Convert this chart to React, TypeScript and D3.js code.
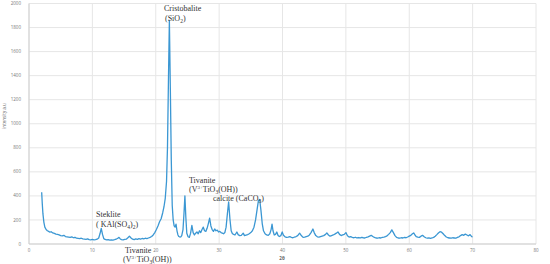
import React from "react";
import * as d3 from "d3";

const twoTheta: number[] = [
  2.0, 2.1, 2.2, 2.35, 2.5, 2.7, 2.9, 3.1, 3.3, 3.5, 3.75, 4.0, 4.25, 4.5, 4.75, 5.0, 5.25, 5.5, 5.75, 6.0,
  6.25, 6.5, 6.75, 7.0, 7.25, 7.5, 7.75, 8.0, 8.25, 8.5, 8.75, 9.0, 9.25, 9.5, 9.75, 10.0, 10.25, 10.5, 10.75, 11.0,
  11.2, 11.4, 11.6, 11.8, 12.0, 12.25, 12.5, 12.75, 13.0, 13.25, 13.5, 13.75, 14.0, 14.2, 14.4, 14.6, 14.85, 15.1, 15.35, 15.6,
  15.85, 16.1, 16.35, 16.6, 16.85, 17.1, 17.35, 17.6, 17.85, 18.1, 18.35, 18.6, 18.85, 19.1, 19.35, 19.6, 19.85, 20.1, 20.35, 20.6,
  20.85, 21.1, 21.3, 21.5, 21.7, 21.85, 22.0, 22.15, 22.3, 22.45, 22.6, 22.75, 22.9, 23.05, 23.2, 23.35, 23.5, 23.65, 23.8, 23.95,
  24.1, 24.3, 24.45, 24.6, 24.75, 24.9, 25.1, 25.3, 25.5, 25.7, 25.9, 26.1, 26.3, 26.5, 26.7, 26.9, 27.1, 27.3, 27.5, 27.7,
  27.9, 28.1, 28.3, 28.5, 28.7, 28.9, 29.1, 29.3, 29.5, 29.7, 29.9, 30.1, 30.3, 30.5, 30.7, 30.9, 31.1, 31.3, 31.5, 31.7,
  31.9, 32.1, 32.3, 32.5, 32.8, 33.0, 33.25, 33.5, 33.8, 34.0, 34.25, 34.5, 34.75, 35.0, 35.25, 35.5, 35.75, 36.0, 36.2, 36.4,
  36.6, 36.8, 37.0, 37.25, 37.5, 37.75, 38.0, 38.2, 38.35, 38.5, 38.7, 38.9, 39.1, 39.3, 39.5, 39.75, 39.95, 40.15, 40.4, 40.65,
  40.9, 41.15, 41.4, 41.65, 41.9, 42.15, 42.4, 42.7, 43.0, 43.25, 43.5, 43.75, 44.0, 44.25, 44.5, 44.8, 45.0, 45.25, 45.5, 45.75,
  46.0, 46.25, 46.5, 46.75, 47.0, 47.25, 47.5, 47.75, 48.0, 48.25, 48.5, 48.75, 49.0, 49.25, 49.5, 49.75, 50.0, 50.25, 50.5, 50.75,
  51.0, 51.25, 51.5, 51.75, 52.0, 52.25, 52.5, 52.75, 53.0, 53.25, 53.5, 53.75, 54.0, 54.25, 54.5, 54.75, 55.0, 55.25, 55.5, 55.75,
  56.0, 56.25, 56.5, 56.75, 57.0, 57.25, 57.5, 57.75, 58.0, 58.25, 58.5, 58.75, 59.0, 59.25, 59.5, 59.75, 60.0, 60.25, 60.5, 60.7,
  60.9, 61.1, 61.35, 61.6, 61.85, 62.1, 62.35, 62.6, 62.85, 63.1, 63.35, 63.6, 63.85, 64.1, 64.35, 64.6, 64.85, 65.1, 65.35, 65.6,
  65.85, 66.1, 66.35, 66.6, 66.85, 67.1, 67.35, 67.6, 67.85, 68.1, 68.35, 68.6, 68.85, 69.1, 69.35, 69.6, 69.85, 70.0,
];

const intensity: number[] = [
  430, 330, 250, 180, 140, 120, 110, 105, 98, 102, 92, 88, 82, 80, 76, 70, 68, 72, 62, 60,
  58, 55, 60, 52, 56, 48, 46, 44, 48, 42, 40, 38, 42, 36, 35, 38, 34, 36, 40, 50,
  85, 130, 80, 45, 38, 34, 36, 32, 35, 33, 36, 40, 48, 55, 42, 36, 34, 38, 40, 52,
  65, 50, 40, 36, 42, 38, 44, 40, 46, 42, 48, 45, 50, 55, 62, 75, 95, 120, 150, 185,
  210, 260, 310, 380, 520, 800, 1350, 1860, 1300, 700, 320, 200, 150, 140, 165, 110, 75, 62, 58, 60,
  70, 120, 250, 400, 220, 90, 60, 55, 90, 155, 95, 75, 90, 100, 85, 110, 95, 120, 140, 110,
  105, 130, 170, 215, 150, 120, 105, 125, 110, 115, 100, 105, 95, 90, 85, 95, 140, 250, 350, 210,
  110, 85, 80, 75, 100, 78, 70, 72, 90, 70, 74, 78, 85, 95, 110, 140, 200, 290, 360, 370,
  280, 170, 110, 85, 75, 72, 85, 120, 165, 110, 75, 80, 100, 70, 62, 70, 100, 72, 60, 55,
  58, 62, 55, 52, 58, 62, 70, 90, 68, 55, 58, 62, 65, 75, 95, 125, 95, 70, 60, 58,
  62, 66, 70, 78, 92, 75, 65, 70, 75, 82, 90, 100, 80, 70, 75, 80, 95, 68, 58, 62,
  55, 52, 56, 50, 54, 50, 55, 52, 50, 56, 60, 66, 72, 62, 55, 50, 48, 52, 50, 55,
  58, 62, 68, 80, 95, 118, 95, 70, 55, 50, 48, 52, 50, 55, 52, 58, 65, 72, 85, 92,
  75, 62, 58, 55, 65, 72, 60, 52, 48, 50, 46, 50, 55, 65, 78, 92, 102, 98, 85, 70,
  58, 52, 50, 48, 52, 50, 48, 55, 60, 70, 78, 72, 82, 75, 68, 78, 62, 60,
];

const xTicks: number[] = [0, 10, 20, 30, 40, 50, 60, 70, 80];
const yTicks: number[] = [0, 200, 400, 600, 800, 1000, 1200, 1400, 1600, 1800, 2000];

const W = 550;
const H = 264;

export default function App() {
  const x = d3.scaleLinear().domain([0, 80]).range([29, 536]);
  const y = d3.scaleLinear().domain([0, 2000]).range([244, 3.5]);
  const pts: [number, number][] = twoTheta.map((t, i) => [t, intensity[i]]);
  const line = d3
    .line<[number, number]>()
    .x((d) => x(d[0]))
    .y((d) => y(d[1]));

  const serif = "'Liberation Serif', 'DejaVu Serif', serif";
  const sans = "'Open Sans', 'Liberation Sans', sans-serif";
  const tc = "#333";
  const fs = 8;

  return (
    <svg
      width={W}
      height={H}
      style={{ position: "absolute", left: 0, top: 0, background: "#fff" }}
    >
      {/* grid */}
      {yTicks.map((v) => (
        <line key={"gy" + v} x1={x(0)} x2={x(80)} y1={y(v)} y2={y(v)} stroke="#e6e6e6" strokeWidth={1} />
      ))}
      {xTicks.map((v) => (
        <line key={"gx" + v} x1={x(v)} x2={x(v)} y1={y(0)} y2={y(2000)} stroke="#e6e6e6" strokeWidth={1} />
      ))}
      {/* axes */}
      <line x1={x(0)} x2={x(0)} y1={y(0)} y2={y(2000)} stroke="#cfcfcf" strokeWidth={1} />
      <line x1={x(0)} x2={x(80)} y1={y(0)} y2={y(0)} stroke="#cfcfcf" strokeWidth={1} />
      {/* tick labels */}
      {yTicks.map((v) => (
        <text key={"ty" + v} x={21} y={y(v)} dy="0.35em" textAnchor="end" fontSize={4.5} fill="#777" fontFamily={sans}>
          {v}
        </text>
      ))}
      {xTicks.map((v) => (
        <text key={"tx" + v} x={x(v)} y={251.5} textAnchor="middle" fontSize={4.5} fill="#777" fontFamily={sans}>
          {v}
        </text>
      ))}
      <text x={282} y={260} textAnchor="middle" fontSize={4.5} fontWeight="bold" fill="#666" fontFamily={sans}>
        2θ
      </text>
      <text
        transform="translate(6,116) rotate(-90)"
        textAnchor="middle"
        fontSize={4.5}
        fill="#666"
        fontFamily={sans}
      >
        intensity a.u
      </text>

      {/* data line */}
      <path d={line(pts) || ""} fill="none" stroke="#3b97d3" strokeWidth={1.3} strokeLinejoin="round" />

      {/* annotations */}
      <g fontFamily={serif} fontSize={fs} fill={tc}>
        <text x={164} y={10.5}>Cristobalite</text>
        <text x={165} y={20.5}>
          (SiO<tspan fontSize={5.5} dy={2}>2</tspan>
          <tspan dy={-2}>)</tspan>
        </text>

        <text x={96} y={217}>Steklite</text>
        <text x={96} y={226.5}>
          ( KAl(SO<tspan fontSize={5.5} dy={2}>4</tspan>
          <tspan dy={-2}>)</tspan>
          <tspan fontSize={5.5} dy={2}>2</tspan>
          <tspan dy={-2}>)</tspan>
        </text>

        <text x={125} y={253}>Tivanite</text>
        <text x={123} y={262}>
          (V<tspan fontSize={5} dy={-3}>3+</tspan>
          <tspan dy={3}>TiO</tspan>
          <tspan fontSize={5.5} dy={2}>3</tspan>
          <tspan dy={-2}>(OH))</tspan>
        </text>

        <text x={189} y={183}>Tivanite</text>
        <text x={189} y={192}>
          (V<tspan fontSize={5} dy={-3}>3+</tspan>
          <tspan dy={3}>TiO</tspan>
          <tspan fontSize={5.5} dy={2}>3</tspan>
          <tspan dy={-2}>(OH))</tspan>
        </text>

        <text x={213} y={201}>
          calcite (CaCO<tspan fontSize={5.5} dy={2}>3</tspan>
          <tspan dy={-2}>)</tspan>
        </text>
      </g>
    </svg>
  );
}
